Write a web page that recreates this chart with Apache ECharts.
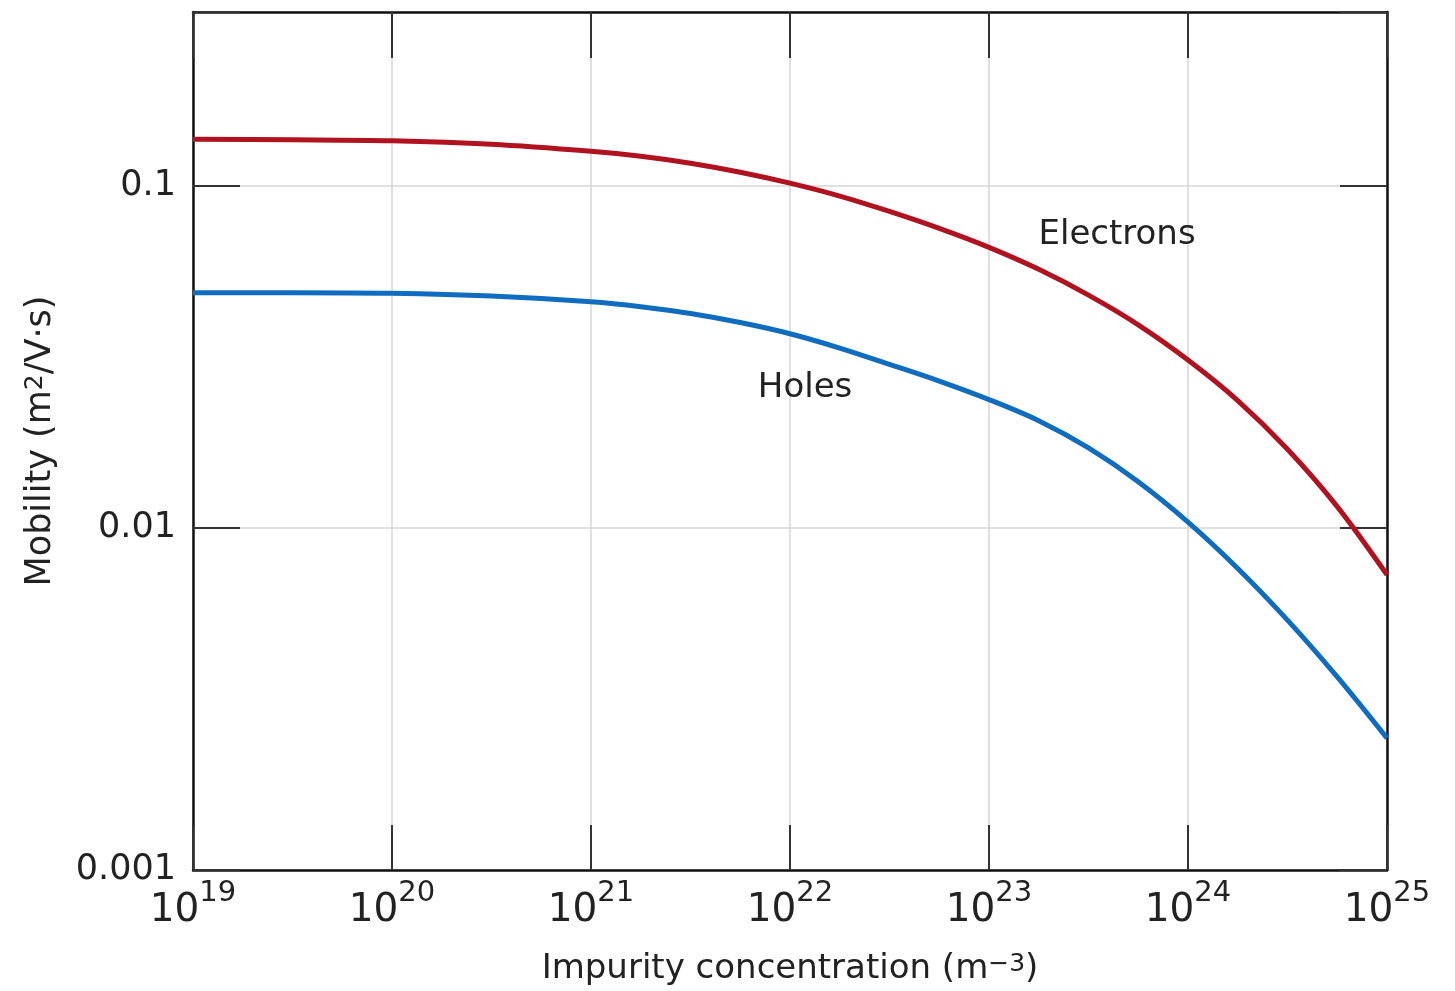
<!DOCTYPE html>
<html>
<head>
<meta charset="utf-8">
<title>Mobility vs impurity concentration</title>
<script src="https://cdn.jsdelivr.net/npm/echarts@6/dist/echarts.min.js"></script>
<style>
    html, body { margin: 0; padding: 0; background: #fff; }
    #chart { width: 1455px; height: 991px; }
</style>
</head>
<body>
<div id="chart"></div>
<script>
// x positions as powers of ten (impurity concentration, m^-3)
const concExp = [19, 19.5, 20, 20.5, 21, 21.25, 21.5, 21.75, 22, 22.25, 22.5, 22.75,
    23, 23.25, 23.5, 23.75, 24, 24.25, 24.5, 24.75, 25];
// mobility, m^2/V·s
const electrons = [0.1370, 0.1366, 0.1357, 0.1325, 0.1264, 0.1223, 0.1167, 0.1098, 0.1020, 0.0935, 0.0843, 0.0752,
    0.0662, 0.0571, 0.0480, 0.0393, 0.0310, 0.0236, 0.0170, 0.01155, 0.00730];
const holes = [0.0488, 0.0488, 0.0486, 0.0477, 0.0459, 0.0444, 0.0424, 0.0399, 0.0370, 0.0336, 0.0301, 0.0269,
    0.02375, 0.0206, 0.01715, 0.01366, 0.01041, 0.00762, 0.00538, 0.00367, 0.00243];

// tick labels
const yTickValues = [0.001, 0.01, 0.1];
const yTickLabels = ["0.001", "0.01", "0.1"];

// curve annotations
const noteNames = ["Electrons", "Holes"];
const noteX = [4.4e23, 1.19e22];
const noteY = [0.0719, 0.02564];

const FONT = "DejaVu Sans";
const TEXT = "#222";

const myChart = echarts.init(document.getElementById("chart"));

function toPoints(values) {
    return values.map((v, i) => [Math.pow(10, concExp[i]), v]);
}

function yLabel(v) {
    let idx = yTickValues.findIndex(t => Math.abs(Math.log10(t) - Math.log10(v)) < 1e-6);
    return idx < 0 ? "" : yTickLabels[idx];
}

const tickStyle = { color: "#333", width: 2 };
const frameLine = { show: true, lineStyle: { color: "#111", width: 2.5 } };

const option = {
    backgroundColor: "#fff",
    animation: false,
    grid: {
        left: 193,
        right: 68,
        top: 12,
        bottom: 117,
        containLabel: false,
    },
    xAxis: [
        {
            type: "log",
            min: 1e19,
            max: 1e25,
            position: "bottom",
            axisLine: frameLine,
            axisTick: { show: true, inside: true, length: 45, lineStyle: tickStyle },
            splitLine: { show: true, lineStyle: { color: "#d6d6d6", width: 1.5 } },
            axisLabel: {
                margin: 9,
                color: TEXT,
                formatter: v => "{b|10}{s|" + Math.round(Math.log10(v)) + "}",
                rich: {
                    b: { fontFamily: FONT, fontSize: 39, color: TEXT, padding: [12, 0, 0, 0] },
                    s: { fontFamily: FONT, fontSize: 29, color: TEXT, verticalAlign: "top" },
                },
            },
            name: "Impurity concentration (m{s|−3})",
            nameLocation: "middle",
            nameGap: 82,
            nameTextStyle: {
                fontFamily: FONT,
                fontSize: 34,
                color: TEXT,
                rich: {
                    s: { fontFamily: FONT, fontSize: 25, color: TEXT, verticalAlign: "top" },
                },
            },
        },
        {
            type: "log",
            min: 1e19,
            max: 1e25,
            position: "top",
            axisLine: frameLine,
            axisTick: { show: true, inside: true, length: 46, lineStyle: tickStyle },
            axisLabel: { show: false },
            splitLine: { show: false },
        },
    ],
    yAxis: [
        {
            type: "log",
            min: 0.001,
            max: 0.323,
            position: "left",
            axisLine: frameLine,
            axisTick: { show: true, inside: true, length: 47, lineStyle: tickStyle },
            splitLine: { show: true, lineStyle: { color: "#d6d6d6", width: 1.5 } },
            axisLabel: {
                margin: 17,
                fontFamily: FONT,
                fontSize: 35,
                color: TEXT,
                formatter: yLabel,
            },
            name: "Mobility (m{s|2}/V·s)",
            nameLocation: "middle",
            nameGap: 135,
            nameTextStyle: {
                fontFamily: FONT,
                fontSize: 35,
                color: TEXT,
                rich: {
                    s: { fontFamily: FONT, fontSize: 25, color: TEXT, verticalAlign: "top" },
                },
            },
        },
        {
            type: "log",
            min: 0.001,
            max: 0.323,
            position: "right",
            axisLine: frameLine,
            axisTick: { show: true, inside: true, length: 47, lineStyle: tickStyle },
            axisLabel: { show: false },
            splitLine: { show: false },
        },
    ],
    series: [
        {
            name: "Electrons",
            type: "line",
            smooth: 0.33,
            symbol: "none",
            lineStyle: { color: "#b0121f", width: 5 },
            data: toPoints(electrons),
        },
        {
            name: "Holes",
            type: "line",
            smooth: 0.33,
            symbol: "none",
            lineStyle: { color: "#0f6cbf", width: 5 },
            data: toPoints(holes),
        },
        {
            type: "scatter",
            symbolSize: 0,
            silent: true,
            itemStyle: { opacity: 1 },
            label: {
                show: true,
                position: "inside",
                fontFamily: FONT,
                fontSize: 34,
                color: TEXT,
                opacity: 1,
                formatter: p => p.data[2],
            },
            data: noteNames.map((n, i) => [noteX[i], noteY[i], n]),
        },
    ],
};

myChart.setOption(option);
window.addEventListener("resize", () => {
    myChart.resize();
});
</script>
</body>
</html>
